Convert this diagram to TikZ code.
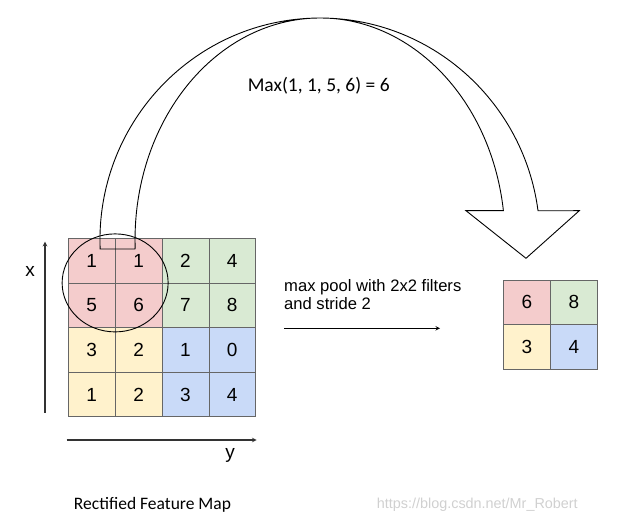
\documentclass[tikz,border=0pt]{standalone}
\usepackage{fontspec}
\usetikzlibrary{positioning}
\newfontfamily\arialfont{Liberation Sans}
\newfontfamily\calibrifont{Carlito}
\definecolor{poolred}{HTML}{F4CCCC}
\definecolor{poolgreen}{HTML}{D9EAD3}
\definecolor{poolyellow}{HTML}{FFF2CC}
\definecolor{poolblue}{HTML}{C9DAF8}
\definecolor{markgray}{HTML}{D0D0D0}
\begin{document}
\begin{tikzpicture}[x=1pt,y=1pt,>=stealth,
  cell node/.style={draw=black!60,line width=0.6pt,minimum width=46.85pt,minimum height=44.6pt,inner sep=0pt,outer sep=0pt,text height=13.6pt,text depth=0pt,font=\arialfont\fontsize{19}{19}\selectfont},
  axis/.style={->,line width=1.1pt,black!80},
  axis label/.style={font=\arialfont\fontsize{19}{19}\selectfont,anchor=base,inner sep=0pt}]
  \useasboundingbox (0,0) rectangle (629,524);

  % rectified feature map
  \node[cell node, fill=poolred] (a11) at (91.7,263.4) {1};
  \node[cell node, fill=poolred] (a12) [right=0pt of a11] {1};
  \node[cell node, fill=poolgreen] (a13) [right=0pt of a12] {2};
  \node[cell node, fill=poolgreen] (a14) [right=0pt of a13] {4};
  \node[cell node, fill=poolred] (a21) [below=0pt of a11] {5};
  \node[cell node, fill=poolred] (a22) [right=0pt of a21] {6};
  \node[cell node, fill=poolgreen] (a23) [right=0pt of a22] {7};
  \node[cell node, fill=poolgreen] (a24) [right=0pt of a23] {8};
  \node[cell node, fill=poolyellow] (a31) [below=0pt of a21] {3};
  \node[cell node, fill=poolyellow] (a32) [right=0pt of a31] {2};
  \node[cell node, fill=poolblue] (a33) [right=0pt of a32] {1};
  \node[cell node, fill=poolblue] (a34) [right=0pt of a33] {0};
  \node[cell node, fill=poolyellow] (a41) [below=0pt of a31] {1};
  \node[cell node, fill=poolyellow] (a42) [right=0pt of a41] {2};
  \node[cell node, fill=poolblue] (a43) [right=0pt of a42] {3};
  \node[cell node, fill=poolblue] (a44) [right=0pt of a43] {4};

  % pooled map
  \node[cell node, fill=poolred] (p11) at (527,221.85) {6};
  \node[cell node, fill=poolgreen] (p12) [right=0pt of p11] {8};
  \node[cell node, fill=poolyellow] (p21) [below=0pt of p11] {3};
  \node[cell node, fill=poolblue] (p22) [right=0pt of p21] {4};

  % axes
  \coordinate (xfoot) at (45,111);
  \coordinate (xhead) at (45,282.3);
  \coordinate (yfoot) at (66.7,84);
  \coordinate (yhead) at (256.7,84);
  \draw[axis] (xfoot) -- (xhead);
  \draw[axis] (yfoot) -- (yhead);
  \node[axis label] (xlab) at (30,247) {x};
  \node[axis label] (ylab) at (230,65.5) {y};

  % 2x2 window
  \draw[line width=0.9pt] (a11.south east) ellipse [x radius=53, y radius=49];

  % curved arrow
  \draw[line width=0.9pt] (135,275) -- (100,275) -- (100.1,276)
    arc[start angle=182.06, end angle=7.58, x radius=220, y radius=222]
    -- (579.3,313.3) -- (526,265.7) -- (466,313.3) -- (503.4,313.3)
    arc[start angle=7.58, end angle=182.06, x radius=185, y radius=222]
    -- cycle;
  \node[font=\calibrifont\fontsize{19.5}{19.5}\selectfont] (maxlab) at (318.7,438.3) {Max(1, 1, 5, 6) = 6};

  % pooling step
  \node[anchor=west,inner sep=0pt,align=left,font=\arialfont\fontsize{16.6}{17.6}\selectfont] (poollab) at (284,229.5) {max pool with 2x2 filters\\and stride 2};
  \coordinate (pfoot) at (284,195.7);
  \coordinate (phead) at (440,195.7);
  \draw[->,line width=1pt] (pfoot) -- (phead);

  \node[font=\calibrifont\fontsize{17.5}{17.5}\selectfont] (maptitle) at (152.5,19) {Rectified Feature Map};
  \node[font=\arialfont\fontsize{14.4}{14.4}\selectfont,text=markgray] (mark) at (477.3,19) {https://blog.csdn.net/Mr\_Robert};
\end{tikzpicture}
\end{document}
